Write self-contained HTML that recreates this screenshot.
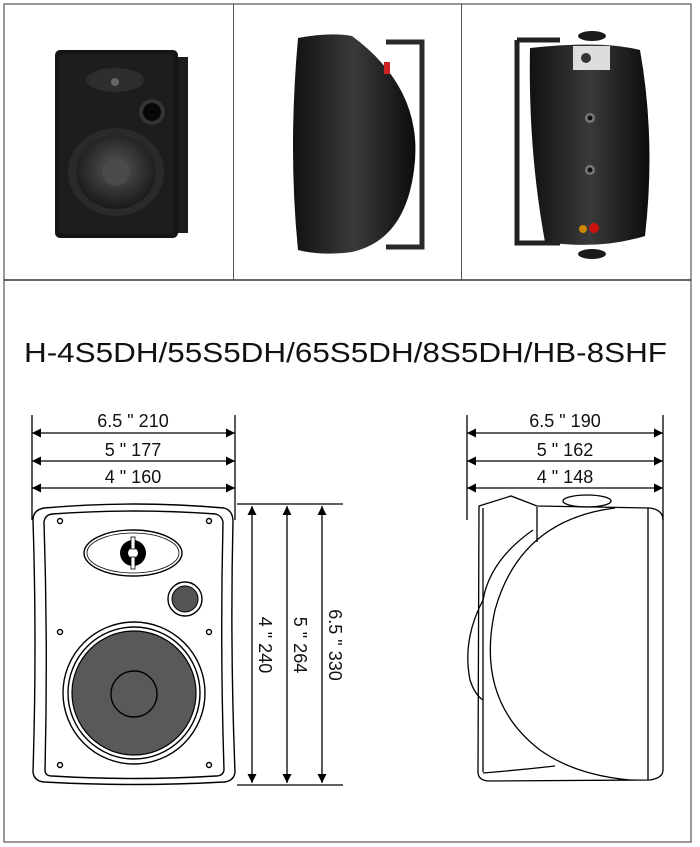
<!DOCTYPE html>
<html><head><meta charset="utf-8"><style>
html,body{margin:0;padding:0;background:#fff}
svg{display:block}
text{font-family:"Liberation Sans",sans-serif;fill:#111}
</style></head><body>
<svg width="700" height="847" viewBox="0 0 700 847" xmlns="http://www.w3.org/2000/svg">
<defs>
<marker id="a" viewBox="0 0 10 10" refX="10" refY="5" markerWidth="9" markerHeight="9" orient="auto-start-reverse" markerUnits="userSpaceOnUse"><path d="M0,0 L10,5 L0,10z" fill="#000"/></marker>
<radialGradient id="wf" cx="50%" cy="45%" r="55%"><stop offset="0" stop-color="#555"/><stop offset="1" stop-color="#1a1a1a"/></radialGradient>
<linearGradient id="bd" x1="0" x2="1"><stop offset="0" stop-color="#111"/><stop offset=".5" stop-color="#3a3a3a"/><stop offset="1" stop-color="#0c0c0c"/></linearGradient>
</defs>
<!-- frame -->
<rect x="4" y="4" width="687" height="838" fill="none" stroke="#555" stroke-width="1.2"/>
<line x1="4" y1="280" x2="691" y2="280" stroke="#333" stroke-width="1.5"/>
<line x1="233.5" y1="4" x2="233.5" y2="280" stroke="#555"/>
<line x1="461.5" y1="4" x2="461.5" y2="280" stroke="#555"/>
<!-- photo 1 -->
<rect x="174" y="57" width="14" height="176" fill="#1c1c1c"/>
<rect x="55" y="50" width="123" height="188" rx="5" fill="#151515"/>
<rect x="59" y="54" width="115" height="180" rx="4" fill="#1d1d1d"/>
<ellipse cx="115" cy="80" rx="29" ry="12" fill="#2e2e2e"/>
<circle cx="115" cy="82" r="4" fill="#666"/>
<circle cx="152" cy="112" r="13" fill="#333"/><circle cx="152" cy="112" r="9" fill="#080808"/>
<ellipse cx="116" cy="172" rx="48" ry="44" fill="#2a2a2a"/>
<ellipse cx="116" cy="172" rx="40" ry="37" fill="url(#wf)"/>
<circle cx="116" cy="172" r="14" fill="#4a4a4a"/>
<!-- photo 2 -->
<path d="M386,42 L422,42 L422,247 L386,247" fill="none" stroke="#2a2a2a" stroke-width="5"/>
<path d="M298,38 Q330,32 352,36 Q425,90 414,170 Q405,240 352,252 Q320,256 298,250 Q288,150 298,38z" fill="url(#bd)"/>
<rect x="384" y="62" width="6" height="12" fill="#c22"/>
<!-- photo 3 -->
<path d="M517,40 L560,40 M517,40 L517,243 L560,243" fill="none" stroke="#222" stroke-width="5"/>
<path d="M530,48 Q600,40 640,50 Q656,140 645,236 Q600,250 545,242 Q528,150 530,48z" fill="url(#bd)"/>
<ellipse cx="592" cy="36" rx="14" ry="5" fill="#1a1a1a"/>
<ellipse cx="592" cy="254" rx="14" ry="5" fill="#1a1a1a"/>
<rect x="573" y="46" width="37" height="24" fill="#ddd"/><circle cx="586" cy="58" r="5" fill="#333"/>
<circle cx="590" cy="118" r="5" fill="#777"/><circle cx="590" cy="118" r="2.5" fill="#111"/>
<circle cx="590" cy="170" r="5" fill="#777"/><circle cx="590" cy="170" r="2.5" fill="#111"/>
<circle cx="583" cy="229" r="4" fill="#c80"/><circle cx="594" cy="228" r="5" fill="#c11"/>

<!-- title -->
<text x="24" y="362" font-size="28" textLength="643" lengthAdjust="spacingAndGlyphs">H-4S5DH/55S5DH/65S5DH/8S5DH/HB-8SHF</text>

<!-- left dims -->
<g stroke="#000" stroke-width="1.3">
<line x1="32" y1="415" x2="32" y2="520"/><line x1="235" y1="415" x2="235" y2="520"/>
<line x1="32" y1="433" x2="235" y2="433" marker-start="url(#a)" marker-end="url(#a)"/>
<line x1="32" y1="461" x2="235" y2="461" marker-start="url(#a)" marker-end="url(#a)"/>
<line x1="32" y1="488" x2="235" y2="488" marker-start="url(#a)" marker-end="url(#a)"/>
<line x1="237" y1="504" x2="343" y2="504"/><line x1="237" y1="785" x2="343" y2="785"/>
<line x1="252" y1="506" x2="252" y2="783" marker-start="url(#a)" marker-end="url(#a)"/>
<line x1="287" y1="506" x2="287" y2="783" marker-start="url(#a)" marker-end="url(#a)"/>
<line x1="322" y1="506" x2="322" y2="783" marker-start="url(#a)" marker-end="url(#a)"/>
</g>
<g font-size="18" text-anchor="middle">
<text x="133" y="427">6.5 " 210</text>
<text x="133" y="456">5 " 177</text>
<text x="133" y="483">4 " 160</text>
<text transform="translate(259,645) rotate(90)">4 " 240</text>
<text transform="translate(294,645) rotate(90)">5 " 264</text>
<text transform="translate(329,645) rotate(90)">6.5 " 330</text>
</g>
<!-- front drawing -->
<g fill="none" stroke="#000" stroke-width="1.4">
<path d="M44,508 Q133,500 224,508 Q232,510 233,520 Q230,645 235,772 Q234,781 224,782 Q133,787 44,782 Q34,781 33,772 Q37,645 33,520 Q33,510 44,508z"/>
<path d="M52,514 Q133,508 216,514 Q222,516 223,522 Q220,645 224,770 Q223,776 216,776 Q133,781 52,776 Q45,776 45,770 Q48,645 44,522 Q45,515 52,514z"/>
<ellipse cx="133" cy="553" rx="49" ry="23"/><ellipse cx="133" cy="553" rx="46" ry="20" stroke-width=".8"/>
<circle cx="60" cy="521" r="2.5"/><circle cx="209" cy="521" r="2.5"/>
<circle cx="60" cy="632" r="2.5"/><circle cx="209" cy="632" r="2.5"/>
<circle cx="60" cy="765" r="2.5"/><circle cx="209" cy="765" r="2.5"/>
<circle cx="185" cy="599" r="17"/>
<circle cx="134" cy="693" r="71"/><circle cx="134" cy="693" r="66"/>
</g>
<circle cx="133" cy="553" r="13" fill="#000"/><circle cx="133" cy="553" r="5" fill="#fff"/>
<rect x="131" y="537" width="4" height="12" fill="#fff" stroke="#000" stroke-width=".8"/>
<rect x="131" y="557" width="4" height="12" fill="#fff" stroke="#000" stroke-width=".8"/>
<circle cx="185" cy="599" r="13" fill="#555" stroke="#000"/>
<circle cx="134" cy="693" r="62" fill="#595959" stroke="#000" stroke-width="1.2"/>
<circle cx="134" cy="694" r="23" fill="#595959" stroke="#000" stroke-width="1.4"/>

<!-- right dims -->
<g stroke="#000" stroke-width="1.3">
<line x1="467" y1="415" x2="467" y2="520"/><line x1="663" y1="415" x2="663" y2="520"/>
<line x1="467" y1="433" x2="663" y2="433" marker-start="url(#a)" marker-end="url(#a)"/>
<line x1="467" y1="461" x2="663" y2="461" marker-start="url(#a)" marker-end="url(#a)"/>
<line x1="467" y1="488" x2="663" y2="488" marker-start="url(#a)" marker-end="url(#a)"/>
</g>
<g font-size="18" text-anchor="middle">
<text x="565" y="427">6.5 " 190</text>
<text x="565" y="456">5 " 162</text>
<text x="565" y="483">4 " 148</text>
</g>
<g fill="none" stroke="#000" stroke-width="1.3">
<path d="M479,506 L511,496 L537,506 L650,508 Q663,510 663,520 L663,770 Q663,778 650,780 L488,781 Q478,780 478,772z"/>
<line x1="483" y1="508" x2="483" y2="772"/>
<line x1="537" y1="507" x2="537" y2="542"/>
<line x1="648" y1="508" x2="648" y2="780"/>
<ellipse cx="587" cy="501" rx="24" ry="6"/>
<path d="M615,508 Q520,520 495,610 Q475,700 540,750 Q575,775 630,780"/>
<path d="M533,530 Q490,560 483,600"/>
<path d="M483,600 Q462,640 470,680 Q475,695 483,700"/>
<path d="M483,773 Q520,770 555,766"/>
</g>
</svg>
</body></html>
